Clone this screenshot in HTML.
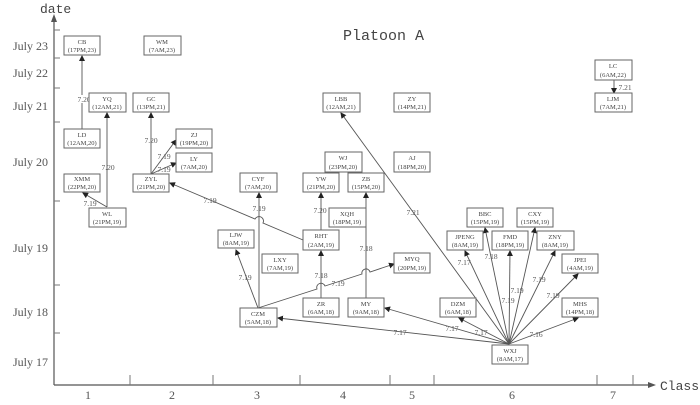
<!DOCTYPE html>
<html><head><meta charset="utf-8"><style>
html,body{margin:0;padding:0;background:#fff;}
svg{display:block;}
.b{fill:#fff;stroke:#666;stroke-width:1;}
.t{font-family:"Liberation Serif",serif;font-size:6.5px;fill:#444;text-anchor:middle;}
.l{font-family:"Liberation Serif",serif;font-size:7.5px;fill:#555;text-anchor:middle;}
.e{stroke:#555;stroke-width:0.9;fill:none;}
.ax{font-family:"Liberation Serif",serif;font-size:12px;fill:#555;}
</style></head><body>
<svg width="700" height="405" viewBox="0 0 700 405" xmlns="http://www.w3.org/2000/svg">
<defs><marker id="a" markerWidth="6" markerHeight="6" refX="5" refY="3" orient="auto" markerUnits="userSpaceOnUse"><path d="M0,0 L6,3 L0,6 z" fill="#222"/></marker></defs>
<!-- axes -->
<line x1="54" y1="20" x2="54" y2="385" stroke="#555" stroke-width="1.2"/>
<path d="M51,22 L54,14 L57,22 z" fill="#555"/>
<line x1="54" y1="385" x2="650" y2="385" stroke="#555" stroke-width="1.2"/>
<path d="M648,382 L656,385 L648,388 z" fill="#555"/>
<g stroke="#777" stroke-width="1">
<line x1="54" y1="30" x2="60" y2="30"/><line x1="54" y1="58" x2="60" y2="58"/><line x1="54" y1="88" x2="60" y2="88"/><line x1="54" y1="122" x2="60" y2="122"/><line x1="54" y1="201" x2="60" y2="201"/><line x1="54" y1="285" x2="60" y2="285"/><line x1="54" y1="333" x2="60" y2="333"/>
<line x1="130" y1="385" x2="130" y2="375"/><line x1="213" y1="385" x2="213" y2="375"/><line x1="300" y1="385" x2="300" y2="375"/><line x1="390" y1="385" x2="390" y2="375"/><line x1="434" y1="385" x2="434" y2="375"/><line x1="597" y1="385" x2="597" y2="375"/><line x1="633" y1="385" x2="633" y2="375"/>
</g>
<text x="40" y="13" font-family="Liberation Mono,monospace" font-size="13" fill="#444">date</text>
<text x="660" y="390" font-family="Liberation Mono,monospace" font-size="13" fill="#444">Class</text>
<text x="343" y="40" font-family="Liberation Mono,monospace" font-size="15" fill="#444">Platoon A</text>
<g class="ax">
<text x="13" y="50">July 23</text><text x="13" y="77">July 22</text><text x="13" y="110">July 21</text><text x="13" y="166">July 20</text><text x="13" y="252">July 19</text><text x="13" y="316">July 18</text><text x="13" y="366">July 17</text>
</g>
<g class="ax" text-anchor="middle" font-size="13">
<text x="88" y="399">1</text><text x="172" y="399">2</text><text x="257" y="399">3</text><text x="343" y="399">4</text><text x="412" y="399">5</text><text x="512" y="399">6</text><text x="613" y="399">7</text>
</g>
<!-- edges -->
<g class="e" marker-end="url(#a)">
<line x1="82" y1="129" x2="82" y2="56"/>
<line x1="107" y1="207" x2="107" y2="113"/>
<line x1="107" y1="207" x2="83" y2="193"/>
<line x1="151" y1="174" x2="151" y2="113"/>
<line x1="151" y1="174" x2="176" y2="140"/>
<line x1="151" y1="174" x2="176" y2="163"/>
<path d="M303,240 L263,223 A4,4 0 0 0 255,219 L170,183"/>
<line x1="259" y1="308" x2="259" y2="193"/>
<line x1="258" y1="308" x2="236" y2="250"/>
<path d="M258,308 L317,289 A4,4 0 0 1 325,286 L362,274 A4,4 0 0 1 370,272 L394,264"/>
<line x1="321" y1="298" x2="321" y2="251"/>
<line x1="321" y1="230" x2="321" y2="193"/>
<line x1="366" y1="298" x2="366" y2="193"/>
<line x1="509" y1="344" x2="341" y2="113"/>
<line x1="509" y1="344" x2="278" y2="318"/>
<line x1="509" y1="344" x2="385" y2="308"/>
<line x1="509" y1="344" x2="459" y2="318"/>
<line x1="509" y1="344" x2="465" y2="251"/>
<line x1="509" y1="344" x2="485" y2="228"/>
<line x1="509" y1="344" x2="510" y2="251"/>
<line x1="509" y1="344" x2="535" y2="228"/>
<line x1="509" y1="344" x2="555" y2="251"/>
<line x1="509" y1="344" x2="578" y2="274"/>
<line x1="509" y1="344" x2="578" y2="318"/>
<line x1="614" y1="80" x2="614" y2="93"/>
</g>
<!-- edge labels -->
<g class="l">
<rect x="76" y="95" width="10" height="8" fill="#fff"/><text x="84" y="102">7.20</text>
<text x="108" y="170">7.20</text><text x="90" y="206">7.19</text>
<text x="151" y="143">7.20</text><text x="164" y="159">7.19</text><text x="164" y="172">7.19</text>
<text x="210" y="203">7.19</text><text x="259" y="211">7.19</text><text x="245" y="280">7.19</text>
<text x="338" y="286">7.19</text><text x="321" y="278">7.18</text><text x="320" y="213">7.20</text>
<text x="366" y="251">7.18</text><text x="413" y="215">7.21</text>
<text x="400" y="335">7.17</text><text x="452" y="331">7.17</text><text x="481" y="335">7.17</text>
<text x="464" y="265">7.17</text><text x="491" y="259">7.18</text><text x="508" y="303">7.19</text>
<text x="517" y="293">7.19</text><text x="539" y="282">7.19</text><text x="553" y="298">7.19</text>
<text x="536" y="337">7.16</text><text x="625" y="90">7.21</text>
</g>
<!-- boxes -->
<g>
<rect class="b" x="64" y="36" width="36" height="19"/><text class="t" x="82" y="44">CB</text><text class="t" x="82" y="52">(17PM,23)</text>
<rect class="b" x="144" y="36" width="37" height="19"/><text class="t" x="162" y="44">WM</text><text class="t" x="162" y="52">(7AM,23)</text>
<rect class="b" x="89" y="93" width="37" height="19"/><text class="t" x="107" y="101">YQ</text><text class="t" x="107" y="109">(12AM,21)</text>
<rect class="b" x="133" y="93" width="36" height="19"/><text class="t" x="151" y="101">GC</text><text class="t" x="151" y="109">(13PM,21)</text>
<rect class="b" x="64" y="129" width="36" height="19"/><text class="t" x="82" y="137">LD</text><text class="t" x="82" y="145">(12AM,20)</text>
<rect class="b" x="176" y="129" width="36" height="19"/><text class="t" x="194" y="137">ZJ</text><text class="t" x="194" y="145">(19PM,20)</text>
<rect class="b" x="176" y="153" width="36" height="19"/><text class="t" x="194" y="161">LY</text><text class="t" x="194" y="169">(7AM,20)</text>
<rect class="b" x="64" y="174" width="36" height="18"/><text class="t" x="82" y="181">XMM</text><text class="t" x="82" y="189">(22PM,20)</text>
<rect class="b" x="133" y="174" width="36" height="18"/><text class="t" x="151" y="181">ZYL</text><text class="t" x="151" y="189">(21PM,20)</text>
<rect class="b" x="89" y="208" width="37" height="19"/><text class="t" x="107" y="216">WL</text><text class="t" x="107" y="224">(21PM,19)</text>
<rect class="b" x="240" y="173" width="37" height="19"/><text class="t" x="258" y="181">CYF</text><text class="t" x="258" y="189">(7AM,20)</text>
<rect class="b" x="325" y="152" width="37" height="20"/><text class="t" x="343" y="160">WJ</text><text class="t" x="343" y="169">(23PM,20)</text>
<rect class="b" x="394" y="152" width="36" height="20"/><text class="t" x="412" y="160">AJ</text><text class="t" x="412" y="169">(18PM,20)</text>
<rect class="b" x="303" y="173" width="36" height="19"/><text class="t" x="321" y="181">YW</text><text class="t" x="321" y="189">(21PM,20)</text>
<rect class="b" x="348" y="173" width="36" height="19"/><text class="t" x="366" y="181">ZB</text><text class="t" x="366" y="189">(15PM,20)</text>
<rect class="b" x="329" y="208" width="37" height="19"/><text class="t" x="347" y="216">XQH</text><text class="t" x="347" y="224">(18PM,19)</text>
<rect class="b" x="218" y="230" width="36" height="18"/><text class="t" x="236" y="237">LJW</text><text class="t" x="236" y="245">(8AM,19)</text>
<rect class="b" x="303" y="230" width="36" height="20"/><text class="t" x="321" y="238">RHT</text><text class="t" x="321" y="247">(2AM,19)</text>
<rect class="b" x="262" y="254" width="36" height="19"/><text class="t" x="280" y="262">LXY</text><text class="t" x="280" y="270">(7AM,19)</text>
<rect class="b" x="394" y="253" width="36" height="20"/><text class="t" x="412" y="261">MYQ</text><text class="t" x="412" y="270">(20PM,19)</text>
<rect class="b" x="303" y="298" width="36" height="19"/><text class="t" x="321" y="306">ZR</text><text class="t" x="321" y="314">(6AM,18)</text>
<rect class="b" x="348" y="298" width="36" height="19"/><text class="t" x="366" y="306">MY</text><text class="t" x="366" y="314">(9AM,18)</text>
<rect class="b" x="240" y="308" width="37" height="19"/><text class="t" x="258" y="316">CZM</text><text class="t" x="258" y="324">(5AM,18)</text>
<rect class="b" x="323" y="93" width="37" height="19"/><text class="t" x="341" y="101">LBB</text><text class="t" x="341" y="109">(12AM,21)</text>
<rect class="b" x="394" y="93" width="36" height="19"/><text class="t" x="412" y="101">ZY</text><text class="t" x="412" y="109">(14PM,21)</text>
<rect class="b" x="595" y="60" width="37" height="20"/><text class="t" x="613" y="68">LC</text><text class="t" x="613" y="77">(6AM,22)</text>
<rect class="b" x="595" y="93" width="37" height="19"/><text class="t" x="613" y="101">LJM</text><text class="t" x="613" y="109">(7AM,21)</text>
<rect class="b" x="467" y="208" width="36" height="19"/><text class="t" x="485" y="216">BBC</text><text class="t" x="485" y="224">(15PM,19)</text>
<rect class="b" x="517" y="208" width="36" height="19"/><text class="t" x="535" y="216">CXY</text><text class="t" x="535" y="224">(15PM,19)</text>
<rect class="b" x="447" y="231" width="36" height="19"/><text class="t" x="465" y="239">JPENG</text><text class="t" x="465" y="247">(8AM,19)</text>
<rect class="b" x="492" y="231" width="36" height="19"/><text class="t" x="510" y="239">FMD</text><text class="t" x="510" y="247">(18PM,19)</text>
<rect class="b" x="537" y="231" width="37" height="19"/><text class="t" x="555" y="239">ZNY</text><text class="t" x="555" y="247">(8AM,19)</text>
<rect class="b" x="562" y="254" width="36" height="19"/><text class="t" x="580" y="262">JPEI</text><text class="t" x="580" y="270">(4AM,19)</text>
<rect class="b" x="440" y="298" width="36" height="19"/><text class="t" x="458" y="306">DZM</text><text class="t" x="458" y="314">(6AM,18)</text>
<rect class="b" x="562" y="298" width="36" height="19"/><text class="t" x="580" y="306">MHS</text><text class="t" x="580" y="314">(14PM,18)</text>
<rect class="b" x="492" y="345" width="36" height="19"/><text class="t" x="510" y="353">WXJ</text><text class="t" x="510" y="361">(8AM,17)</text>
</g>
</svg>
</body></html>
